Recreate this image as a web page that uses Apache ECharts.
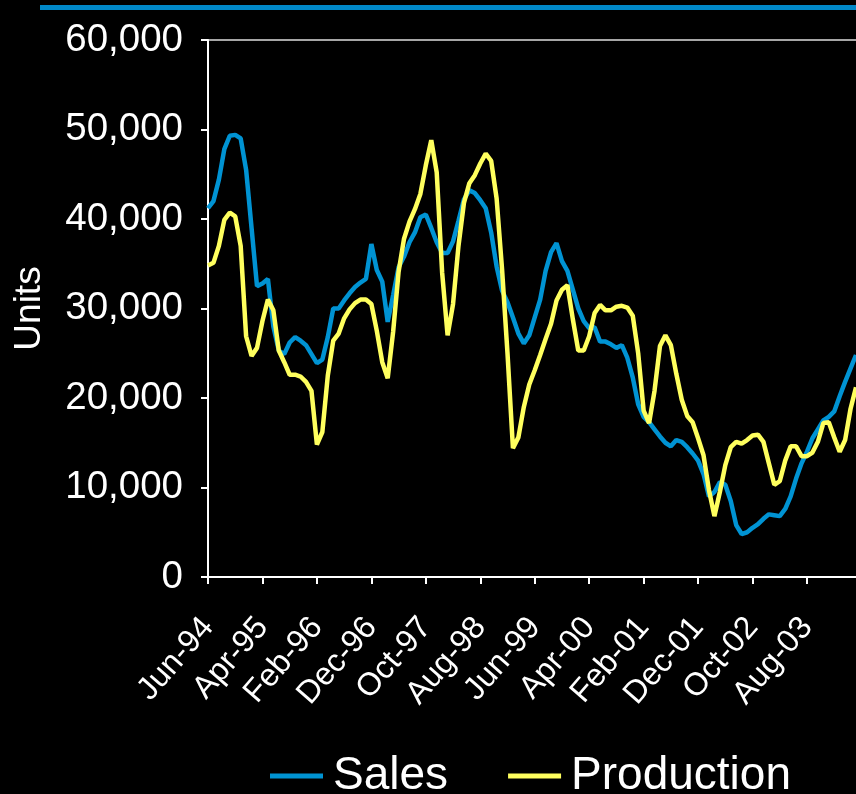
<!DOCTYPE html>
<html>
<head>
<meta charset="utf-8">
<script src="https://cdn.jsdelivr.net/npm/echarts@6/dist/echarts.min.js"></script>
<style>
  html, body { margin: 0; padding: 0; background: #000; }
  #chart { width: 856px; height: 794px; }
</style>
</head>
<body>
<div id="chart"></div>
<script>
// Monthly unit sales and production, starting June 1994
const startYear = 1994;
const startMonthIndex = 5; // June
const monthNames = ['Jan', 'Feb', 'Mar', 'Apr', 'May', 'Jun', 'Jul', 'Aug', 'Sep', 'Oct', 'Nov', 'Dec'];

const sales = [
  41200, 42000, 44400, 47800, 49300, 49400, 49000, 45500, 39000, 32500,
  32800, 33300, 28000, 25300, 24900, 26200, 26800, 26400, 25900, 24900,
  23900, 24300, 26800, 30000, 30000, 30900, 31700, 32400, 32900, 33300,
  37200, 34300, 33000, 28500, 31500, 34600, 35800, 37400, 38500, 40200,
  40500, 39000, 37400, 36200, 36200, 37500, 39800, 42200, 43200, 42900,
  42100, 41200, 38500, 34700, 32000, 30700, 29000, 27200, 26100, 27000,
  29000, 31000, 34200, 36300, 37300, 35300, 34200, 32100, 30000, 28600,
  27800, 27900, 26300, 26300, 26000, 25600, 25900, 24500, 22300, 19300,
  17900, 17300, 16500, 15700, 15000, 14600, 15300, 15100, 14500, 13800,
  13000, 11500, 9000, 9500, 10600, 10300, 8500, 5800, 4800, 5000,
  5500, 5900, 6500, 7000, 6900, 6800, 7600, 9000, 11000, 12700,
  14000, 15500, 16500, 17500, 17900, 18500, 20200, 21800, 23300, 24800
];

const production = [
  34800, 35100, 37000, 39900, 40700, 40300, 37000, 26900, 24700, 25600,
  28600, 31000, 29800, 25300, 24000, 22600, 22600, 22400, 21800, 20800,
  14800, 16200, 22500, 26400, 27200, 28900, 29900, 30600, 31000, 31000,
  30500, 27500, 24000, 22200, 27400, 34100, 37800, 39700, 41100, 42800,
  46000, 48800, 45200, 34000, 27000, 30500, 37000, 41800, 44000, 44900,
  46200, 47300, 46500, 42300, 34400, 25000, 14400, 15600, 19000, 21500,
  23100, 24800, 26600, 28300, 30900, 32100, 32600, 28800, 25300, 25300,
  26900, 29500, 30400, 29800, 29800, 30200, 30300, 30100, 29200, 25000,
  18600, 17200, 20800, 25800, 27000, 25900, 22700, 19800, 18000, 17300,
  15500, 13600, 9700, 6800, 9500, 12500, 14500, 15100, 14900, 15300,
  15800, 15900, 15100, 12700, 10300, 10700, 13000, 14600, 14600, 13500,
  13500, 13900, 15100, 17200, 17300, 15600, 14000, 15300, 18800, 21200
];

// Month labels such as "Jun-94"
const months = sales.map((_, i) => {
  const m = startMonthIndex + i;
  const y = startYear + Math.floor(m / 12);
  return monthNames[m % 12] + '-' + String(y % 100).padStart(2, '0');
});

const yMin = 0, yMax = 60000, yStep = 10000;
const labelEvery = 10;

const font = '"Liberation Sans", Arial, sans-serif';
const salesColor = '#0093d3';
const productionColor = '#ffff5e';

const chart = echarts.init(document.getElementById('chart'), null, { renderer: 'canvas' });

chart.setOption({
  backgroundColor: '#000000',
  animation: false,
  graphic: [
    {
      type: 'rect',
      shape: { x: 40, y: 5, width: 820, height: 5 },
      style: { fill: '#0088c8' },
      silent: true
    }
  ],
  grid: { left: 208, right: -3, top: 40, bottom: 217, containLabel: false },
  legend: {
    data: ['Sales', 'Production'],
    left: 270,
    top: 753,
    padding: 0,
    icon: 'rect',
    itemWidth: 53,
    itemHeight: 5,
    itemGap: 60,
    textStyle: { color: '#ffffff', fontSize: 46, fontFamily: font, padding: [0, 0, 0, 5] }
  },
  xAxis: {
    type: 'category',
    data: months,
    boundaryGap: false,
    axisLine: { lineStyle: { color: '#ffffff', width: 2 } },
    axisTick: { interval: labelEvery - 1, length: 7, lineStyle: { color: '#ffffff', width: 2 } },
    axisLabel: {
      interval: labelEvery - 1,
      rotate: 49,
      margin: 45,
      color: '#ffffff',
      fontSize: 32,
      fontFamily: font
    },
    splitLine: { show: false }
  },
  yAxis: {
    type: 'value',
    min: yMin,
    max: yMax,
    interval: yStep,
    name: 'Units',
    nameLocation: 'middle',
    nameGap: 160,
    nameTextStyle: { color: '#ffffff', fontSize: 37, fontFamily: font },
    axisLine: { show: true, lineStyle: { color: '#ffffff', width: 2 } },
    axisTick: { show: true, length: 7, lineStyle: { color: '#ffffff', width: 2 } },
    axisLabel: {
      margin: 25,
      color: '#ffffff',
      fontSize: 38.5,
      fontFamily: font,
      formatter: v => v.toLocaleString('en-US')
    },
    splitLine: {
      show: true,
      lineStyle: {
        color: ['rgba(0,0,0,0)', 'rgba(0,0,0,0)', 'rgba(0,0,0,0)', 'rgba(0,0,0,0)',
                'rgba(0,0,0,0)', 'rgba(0,0,0,0)', '#a6a6a6'],
        width: 2
      }
    }
  },
  series: [
    {
      name: 'Sales',
      type: 'line',
      data: sales,
      showSymbol: false,
      symbol: 'none',
      lineStyle: { color: salesColor, width: 4.5 },
      itemStyle: { color: salesColor }
    },
    {
      name: 'Production',
      type: 'line',
      data: production,
      showSymbol: false,
      symbol: 'none',
      lineStyle: { color: productionColor, width: 4.5 },
      itemStyle: { color: productionColor }
    }
  ]
});
</script>
</body>
</html>
